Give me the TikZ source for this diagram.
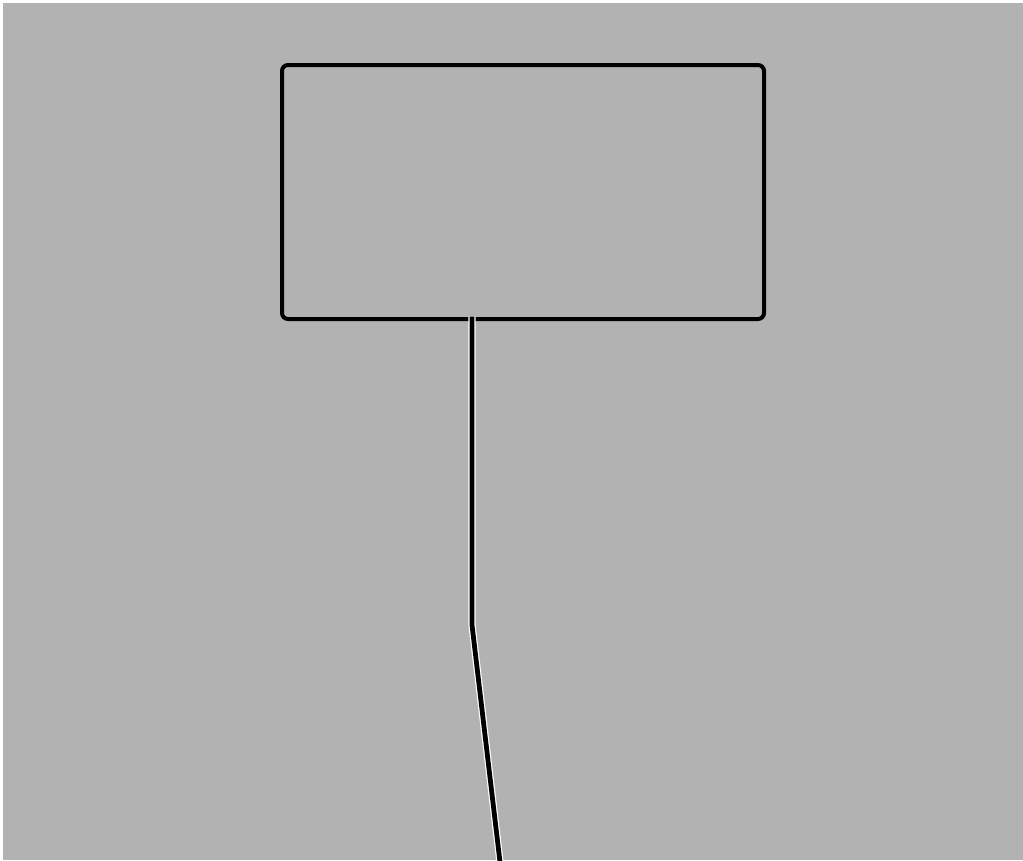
\documentclass[tikz,border=0pt]{standalone}
\begin{document}
\begin{tikzpicture}[x=0.75pt,y=-0.75pt,
  boxstyle/.style={draw=black, line width=3pt, rounded corners=4.5pt, inner sep=0pt,
    minimum width=361.5pt, minimum height=190.5pt},
  wire/.style={draw=white, double=black, double distance=3.6pt, line width=0.9pt}]
\fill[white] (0,0) rectangle (1023,860);
\fill[gray!60] (3,3) rectangle (1023,860);
\useasboundingbox (0,0) rectangle (1023,860);
\node[boxstyle] (box) at (523,192) {};
\coordinate (c1) at (472,625);
\coordinate (c2) at (500,862);
\draw[wire] ([yshift=3.3pt]box.south -| c1) -- (c1) -- (c2);
\end{tikzpicture}
\end{document}
